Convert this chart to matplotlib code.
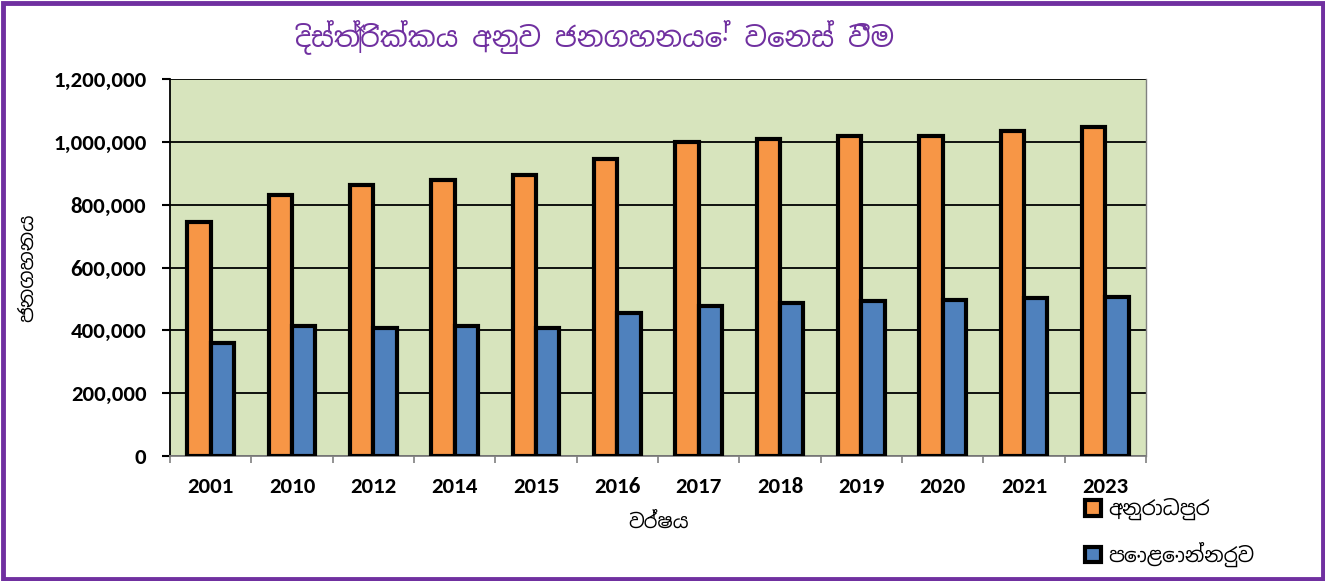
import matplotlib
matplotlib.use("Agg")
import matplotlib.pyplot as plt
import numpy as np
from matplotlib import font_manager as fm
from matplotlib.patches import Rectangle

# ---- data ----
years = ["2001", "2010", "2012", "2014", "2015", "2016",
         "2017", "2018", "2019", "2020", "2021", "2023"]
anuradhapura = [746000, 832000, 863000, 879000, 893000, 946000,
                1000000, 1008000, 1019000, 1019000, 1035000, 1048000]
polonnaruwa = [360000, 413000, 407000, 415000, 407000, 456000,
               477000, 487000, 492000, 497000, 504000, 506000]
series_labels = ["අනුරාධපුර", "පොළොන්නරුව"]
title_text = "දිස්ත්‍රික්කය අනුව ජනගහනයේ වෙනස් වීම"
xlabel_text = "වර්ෂය"
ylabel_text = "ජනගහනය"
yticks = [0, 200000, 400000, 600000, 800000, 1000000, 1200000]

# ---- fonts ----
names = set(e.name for e in fm.fontManager.ttflist)
def pick(prefs, default):
    for p in prefs:
        if p in names:
            return p
    return default

sin_font = pick(["Noto Sans Sinhala", "Yaldevi", "Abhaya Libre", "Yaldevi Colombo"], "DejaVu Sans")
num_font = pick(["Carlito", "Lato", "Open Sans"], "DejaVu Sans")

orange = "#F79646"
blue = "#4F81BD"
purple = "#7030A0"
bg = "#D7E4BD"

fig = plt.figure(figsize=(13.25, 5.81), dpi=100)
ax = fig.add_axes([170/1325, 1-456/581, (1146-170)/1325, (456-79)/581])
ax.set_facecolor(bg)

x = np.arange(len(years))
w = 0.285
ax.bar(x - w/2, anuradhapura, width=w, color=orange, edgecolor="black",
       linewidth=3.0, label=series_labels[0], zorder=3)
ax.bar(x + w/2, polonnaruwa, width=w, color=blue, edgecolor="black",
       linewidth=3.0, label=series_labels[1], zorder=3)

ax.set_xlim(-0.5, len(years) - 0.5)
ax.set_ylim(0, 1200000)
ax.set_yticks(yticks)
ax.set_yticklabels([f"{v:,}" for v in yticks], fontfamily=num_font,
                   fontweight="bold", fontsize=16.5)
ax.yaxis.grid(True, color="black", linewidth=1.3, zorder=1)
ax.set_axisbelow(True)

ax.set_xticks(x)
ax.set_xticklabels(years, fontfamily=num_font, fontweight="bold", fontsize=16.5)
ax.tick_params(axis="x", length=0, pad=15)
ax.set_xticks(np.arange(-0.5, len(years), 1.0), minor=True)
ax.tick_params(axis="x", which="minor", length=5, color="#808080", width=1.2)
ax.tick_params(axis="y", length=6, width=1.5, color="black", pad=11)

ax.spines["top"].set_visible(False)
ax.spines["left"].set_color("black")
ax.spines["left"].set_linewidth(1.3)
ax.spines["bottom"].set_color("#808080")
ax.spines["bottom"].set_linewidth(1.3)
ax.spines["right"].set_color("#808080")
ax.spines["right"].set_linewidth(1.0)

fig.text(595/1325, 1-37/581, title_text, ha="center", va="center",
         fontsize=20, color=purple, fontfamily=sin_font, fontweight="bold")
fig.text(659/1325, 1-523/581, xlabel_text, ha="center", va="center",
         fontsize=14, fontfamily=sin_font, fontweight="bold")
fig.text(28/1325, 1-268/581, ylabel_text, ha="center", va="center",
         fontsize=14.5, fontfamily=sin_font, fontweight="bold", rotation=90)

leg = fig.legend(loc="upper left", bbox_to_anchor=(1077/1325, 1-490/581),
                 frameon=False, prop={"family": sin_font, "size": 14.5},
                 handlelength=0.8, handleheight=0.8, handletextpad=0.35,
                 labelspacing=1.05, borderaxespad=0)
for h in leg.legend_handles:
    h.set_linewidth(3.0)

fig.patches.append(Rectangle((2.5/1325, 2.5/581), 1-5/1325, 1-5/581,
                             transform=fig.transFigure, fill=False,
                             edgecolor=purple, linewidth=3.5, zorder=10))

fig.savefig("out.png", dpi=100)
